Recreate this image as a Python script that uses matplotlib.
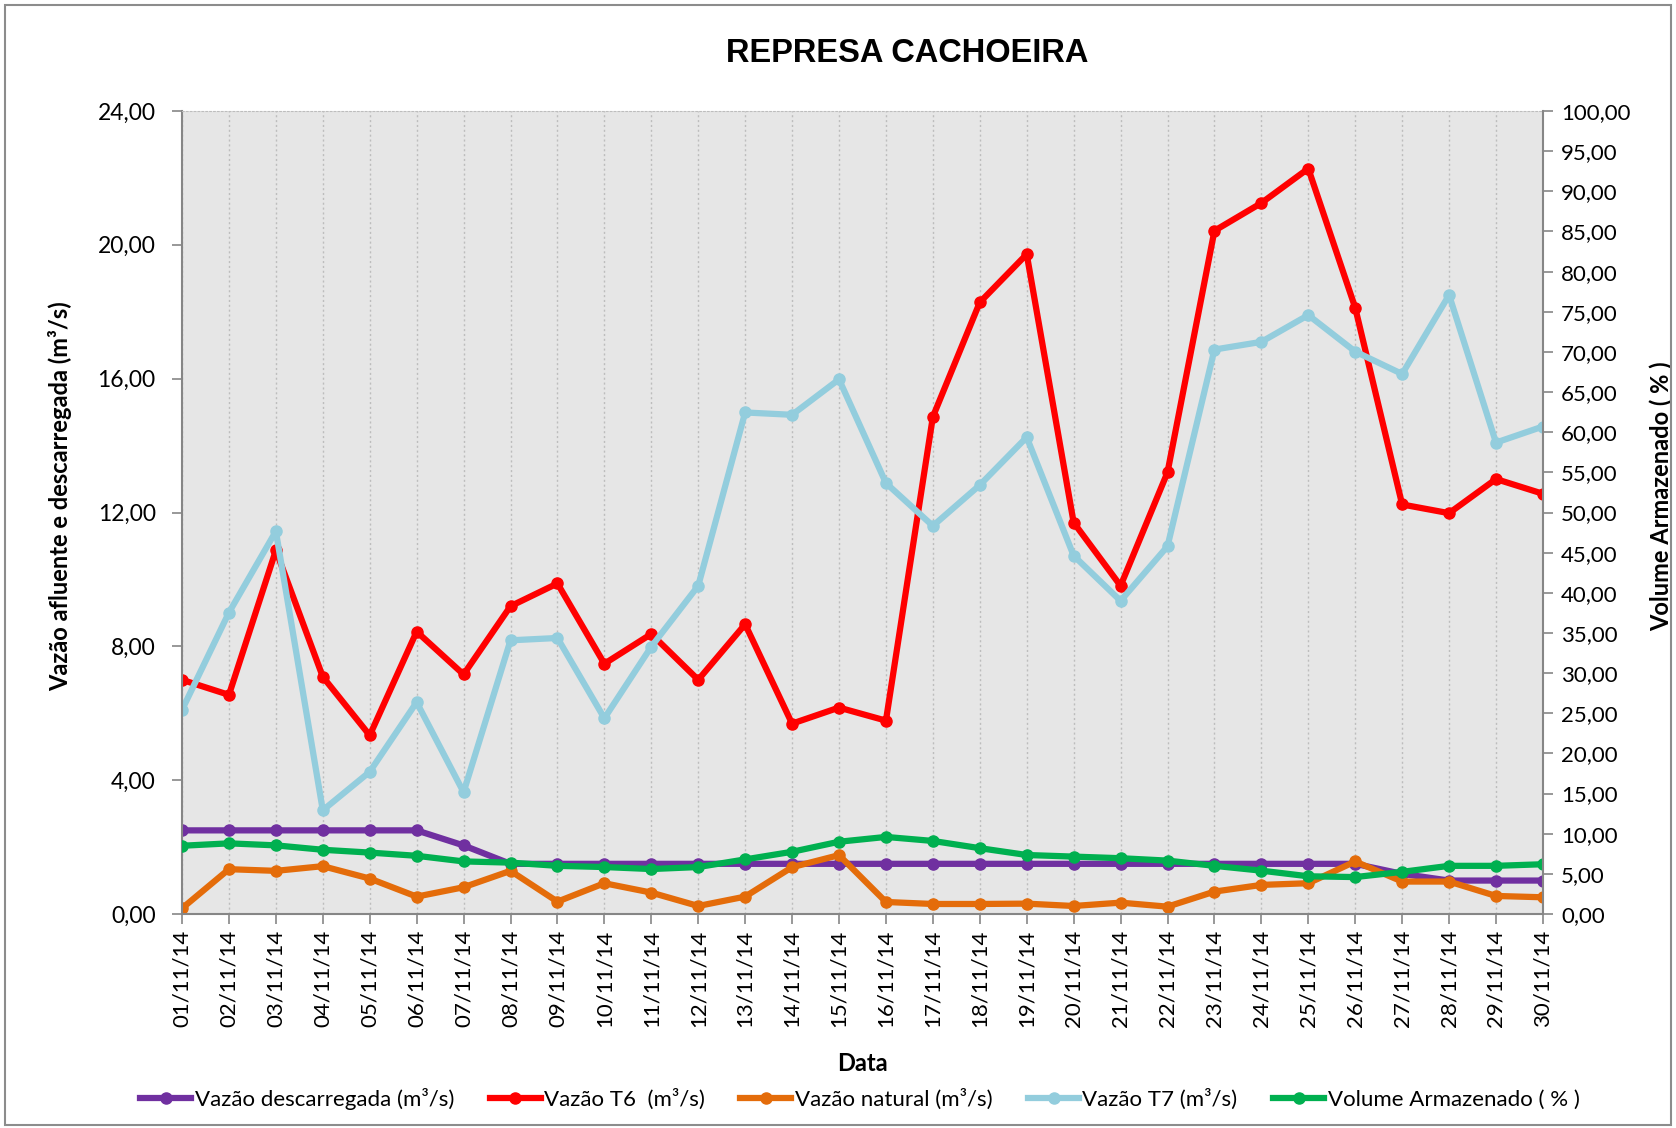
import matplotlib
matplotlib.use("Agg")
import matplotlib.pyplot as plt
from matplotlib.ticker import FuncFormatter, FixedLocator
from matplotlib.patches import Rectangle

plt.rcParams['font.family'] = ['Lato', 'DejaVu Sans']

dates = [f"{d:02d}/11/14" for d in range(1, 31)]

vazao_descarregada = [2.5, 2.5, 2.5, 2.5, 2.5, 2.5, 2.05, 1.5, 1.5, 1.5,
                      1.5, 1.5, 1.5, 1.5, 1.5, 1.5, 1.5, 1.5, 1.5, 1.5,
                      1.5, 1.5, 1.5, 1.5, 1.5, 1.5, 1.2, 1.0, 1.0, 1.0]
vazao_t6 = [7.0, 6.55, 10.87, 7.09, 5.34, 8.44, 7.16, 9.2, 9.88, 7.48,
            8.37, 7.0, 8.66, 5.69, 6.17, 5.78, 14.86, 18.28, 19.72, 11.7,
            9.81, 13.2, 20.42, 21.25, 22.28, 18.12, 12.24, 11.98, 13.0, 12.56]
vazao_natural = [0.17, 1.34, 1.29, 1.43, 1.06, 0.52, 0.8, 1.29, 0.37, 0.92,
                 0.64, 0.24, 0.52, 1.4, 1.76, 0.36, 0.3, 0.3, 0.31, 0.24,
                 0.34, 0.22, 0.67, 0.87, 0.92, 1.57, 0.97, 0.97, 0.54, 0.5]
vazao_t7 = [6.1, 9.01, 11.44, 3.1, 4.25, 6.33, 3.64, 8.18, 8.25, 5.85,
            7.99, 9.81, 14.99, 14.92, 15.98, 12.88, 11.6, 12.82, 14.25, 10.71,
            9.36, 10.99, 16.87, 17.1, 17.9, 16.81, 16.14, 18.5, 14.09, 14.57]
volume = [8.5, 8.8, 8.55, 8.0, 7.65, 7.25, 6.55, 6.4, 6.0, 5.85,
          5.6, 5.85, 6.8, 7.75, 9.0, 9.6, 9.1, 8.2, 7.35, 7.15,
          6.95, 6.65, 6.0, 5.4, 4.7, 4.6, 5.25, 6.0, 6.0, 6.2]

left_ticks = [0, 4, 8, 12, 16, 20, 24]
right_ticks = list(range(0, 101, 5))

W, H = 1676, 1128
fig = plt.figure(figsize=(W / 100, H / 100), dpi=100)
fig.patch.set_facecolor("white")
fig.add_artist(Rectangle((0.003, 0.003), 0.994, 0.993, transform=fig.transFigure,
                         fill=False, edgecolor="#8c8c8c", linewidth=1.5))

ax = fig.add_axes([0.1086, 0.1897, 0.8120, 0.7119])
ax.set_facecolor("#E6E6E6")

lw = 4.5
ms = 8
l1, = ax.plot(dates, vazao_descarregada, color="#7030A0", lw=lw, marker="o", ms=ms,
              solid_joinstyle="round", label="Vazão descarregada (m³/s)")
l2, = ax.plot(dates, vazao_t6, color="#FF0000", lw=lw, marker="o", ms=ms,
              solid_joinstyle="round", label="Vazão T6  (m³/s)")
l3, = ax.plot(dates, vazao_natural, color="#E46C0A", lw=lw, marker="o", ms=ms,
              solid_joinstyle="round", label="Vazão natural (m³/s)")
l4, = ax.plot(dates, vazao_t7, color="#93CDDD", lw=lw, marker="o", ms=ms,
              solid_joinstyle="round", label="Vazão T7 (m³/s)")

ax.set_xlim(0, len(dates) - 1)
ax.set_ylim(0, 24)
ax.yaxis.set_major_locator(FixedLocator(left_ticks))
fmt = FuncFormatter(lambda v, p: f"{v:.2f}".replace(".", ","))
ax.yaxis.set_major_formatter(fmt)
ax.grid(axis="x", color="#BDBDBD", linestyle=(0, (1.5, 2)), linewidth=1.0)
ax.set_axisbelow(True)
ax.tick_params(axis="x", labelrotation=90, labelsize=16, length=7, color="#868686",
               width=1.2, direction="out", pad=4)
ax.tick_params(axis="y", labelsize=16.5, length=7, color="#868686", width=1.2,
               direction="out", pad=12)
for s in ["left", "bottom"]:
    ax.spines[s].set_color("#868686")
    ax.spines[s].set_linewidth(1.5)
ax.spines["right"].set_visible(False)
ax.spines["top"].set_color("#BDBDBD")
ax.spines["top"].set_linestyle((0, (1.5, 2)))

ax.set_ylabel("Vazão afluente e descarregada (m³/s)", fontsize=17, fontweight="bold")
ax.yaxis.set_label_coords(-0.081, 0.52)
ax.set_xlabel("Data", fontsize=17, fontweight="bold", labelpad=18)

ax2 = ax.twinx()
ax2.patch.set_visible(False)
l5, = ax2.plot(dates, volume, color="#00B050", lw=lw, marker="o", ms=ms,
               solid_joinstyle="round", label="Volume Armazenado ( % )")
ax2.set_ylim(0, 100)
ax2.set_xlim(0, len(dates) - 1)
ax2.yaxis.set_major_locator(FixedLocator(right_ticks))
ax2.yaxis.set_major_formatter(fmt)
ax2.tick_params(axis="y", labelsize=16, length=7, color="#868686", width=1.2,
                direction="out", pad=6)
for s in ["left", "top", "bottom"]:
    ax2.spines[s].set_visible(False)
ax2.spines["right"].set_color("#868686")
ax2.spines["right"].set_linewidth(1.5)
ax2.set_ylabel("Volume Armazenado ( % )", fontsize=17, fontweight="bold")
ax2.yaxis.set_label_coords(1.0786, 0.52)

fig.text(0.541, 0.953, "REPRESA CACHOEIRA", fontsize=23.5, fontweight="bold",
         family=["Liberation Sans", "DejaVu Sans"], ha="center", va="center")

fig.legend(handles=[l1, l2, l3, l4, l5], loc="center", bbox_to_anchor=(0.513, 0.026),
           ncol=5, frameon=False, fontsize=16, handlelength=2.3, handletextpad=0.15,
           columnspacing=1.6)

fig.savefig("out.png", dpi=100)
